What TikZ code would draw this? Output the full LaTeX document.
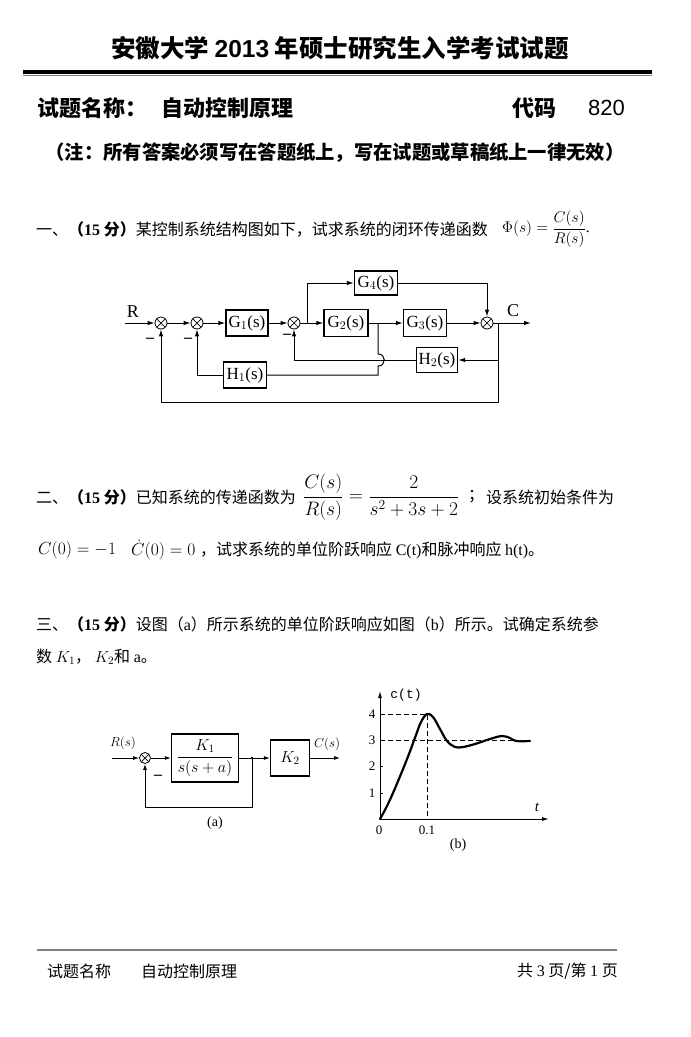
\RequirePackage{fix-cm}
\documentclass[tikz,border=0pt]{standalone}
\usepackage{fontspec}
\usepackage{amsmath}
\setmainfont{Liberation Serif}
\setsansfont{Liberation Sans}
\setmonofont{Liberation Mono}
\newfontfamily\cjk{Noto Sans CJK SC}
\usetikzlibrary{arrows.meta,calc}
\newcommand{\myfs}[1]{\fontsize{#1}{#1}\selectfont}
\begin{document}
\begin{tikzpicture}[x=1pt,y=-1pt,
 blk/.style={draw,line width=1.4pt,minimum width=42pt,minimum height=26pt,inner sep=0pt,font=\myfs{17}},
 sumj/.style={draw,circle,minimum size=12pt,inner sep=0pt,line width=0.8pt,
   path picture={\draw[line width=0.7pt] (path picture bounding box.north west)--(path picture bounding box.south east) (path picture bounding box.north east)--(path picture bounding box.south west);}},
 sig/.style={line width=1pt,-{Latex[length=7pt,width=4.5pt]}},
 siga/.style={line width=0.9pt,-{Latex[length=6pt,width=4pt]}},
 ln/.style={line width=1pt},
 txt/.style={anchor=west,inner sep=0pt,font=\cjk\myfs{16}},
 lab/.style={inner sep=0pt},
 dsh/.style={line width=0.9pt,dash pattern=on 5pt off 3pt}
]
\useasboundingbox (0,0) rectangle (691,1037);
\fill[white] (0,0) rectangle (691,1037);

% ---------- header ----------
\node[lab,font=\cjk\bfseries\myfs{24.5}] (title) at (340,48) {安徽大学 {\sffamily 2013} 年硕士研究生入学考试试题};
\draw[line width=4pt] (23,71.5) -- (652,71.5);
\draw[line width=1.5pt,gray] (23,75.5) -- (652,75.5);
\node[txt,font=\cjk\bfseries\myfs{22}] (h1) at (37,108) {试题名称：};
\node[txt,font=\cjk\bfseries\myfs{22}] (h2) at (161,108) {自动控制原理};
\node[txt,font=\cjk\bfseries\myfs{22}] (h3) at (512,108) {代码};
\node[txt,font=\sffamily\myfs{22}] (h4) at (588,108) {820};
\node[lab,font=\cjk\bfseries\myfs{19.3}] (note) at (335,153) {（注：所有答案必须写在答题纸上，写在试题或草稿纸上一律无效）};

% ---------- problem 1 ----------
\node[txt] (p1) at (36,229) {一、{\bfseries（{\rmfamily 15} 分）}某控制系统结构图如下，试求系统的闭环传递函数};
\node[anchor=west,inner sep=0pt,font=\myfs{15.5}] (p1f) at (502,229) {$\Phi(s)=\dfrac{C(s)}{R(s)}$.};

% diagram 1
\coordinate (in1) at (125,323);
\node[sumj] (s1) at (161,323) {};
\node[sumj] (s2) at (197,323) {};
\node[blk] (G1) at (247,323) {G$_1$(s)};
\node[sumj] (s3) at (294,323) {};
\coordinate (b1) at (307,323);
\node[blk,minimum width=43pt,minimum height=24pt] (G4) at (376,283) {G$_4$(s)};
\node[blk,minimum width=44pt,minimum height=27pt] (G2) at (346,323) {G$_2$(s)};
\coordinate (b2) at (378,323);
\node[blk,minimum width=43pt,minimum height=27pt] (G3) at (425,323) {G$_3$(s)};
\node[sumj] (s4) at (487,323) {};
\coordinate (b3) at (498,323);
\coordinate (out1) at (531,323);
\node[blk,minimum width=41pt,minimum height=25pt] (H2) at (437,360) {H$_2$(s)};
\node[blk,minimum width=43pt,minimum height=26pt] (H1) at (245,375) {H$_1$(s)};
\coordinate (j1) at (378,354);
\coordinate (j2) at (378,366);
\coordinate (j3) at (378,375);
\coordinate (c1) at (498,402);

\draw[sig] (in1) -- (s1);
\draw[sig] (s1) -- (s2);
\draw[sig] (s2) -- (G1);
\draw[sig] (G1) -- (s3);
\draw[sig] (s3) -- (G2);
\draw[sig] (b1) |- (G4.west);
\draw[sig] (G4.east) -| (s4.north);
\draw[sig] (G2) -- (G3);
\draw[sig] (G3) -- (s4);
\draw[sig] (s4) -- (out1);
\draw[sig] (b3) |- (H2.east);
\draw[sig] (H2.west) -| (s3.south);
\draw[ln] (b2) -- (j1) to[out=0,in=0,looseness=1.8] (j2) -- (j3) -- (H1.east);
\draw[sig] (H1.west) -| (s2.south);
\draw[sig] (b3) -- (c1) -| (s1.south);

\node[lab,font=\myfs{18}] (Rl) at (133,312) {R};
\node[lab,font=\myfs{18}] (Cl) at (513,311) {C};
\node[lab,font=\bfseries\myfs{16}] (m1) at (150,340) {–};
\node[lab,font=\bfseries\myfs{16}] (m2) at (188,340) {–};
\node[lab,font=\bfseries\myfs{16}] (m3) at (287,336) {–};

% ---------- problem 2 ----------
\node[txt] (p2) at (36,497) {二、{\bfseries（{\rmfamily 15} 分）}已知系统的传递函数为};
\node[anchor=west,inner sep=0pt,font=\myfs{19.5}] (p2f) at (303,497) {$\dfrac{C(s)}{R(s)}=\dfrac{2}{s^2+3s+2}$};
\node[txt] (p2s) at (468,497) {；};
\node[txt] (p2b) at (486,497) {设系统初始条件为};
\node[anchor=west,inner sep=0pt,font=\myfs{17.5}] (p2c) at (38,550) {$C(0)=-1$};
\node[anchor=west,inner sep=0pt,font=\myfs{17.5}] (p2e) at (131,550) {$\dot{C}(0)=0$};
\node[txt] (p2d) at (200,550) {，试求系统的单位阶跃响应 {\rmfamily C(t)}和脉冲响应 {\rmfamily h(t)}。};

% ---------- problem 3 ----------
\node[txt] (p3) at (36,624) {三、{\bfseries（{\rmfamily 15} 分）}设图（{\rmfamily a}）所示系统的单位阶跃响应如图（{\rmfamily b}）所示。试确定系统参};
\node[txt] (p3b) at (36,657) {数 {\rmfamily $K_1$}， {\rmfamily $K_2$}和 {\rmfamily a}。};

% diagram (a)
\coordinate (inA) at (112,758);
\node[sumj,minimum size=11pt] (sA) at (145,758) {};
\node[blk,minimum width=67pt,minimum height=48pt,line width=1.2pt,font=\myfs{16}] (KA) at (205,758) {$\dfrac{K_1}{s(s+a)}$};
\coordinate (bA) at (252,758);
\node[blk,minimum width=39pt,minimum height=36pt,line width=1.2pt,font=\myfs{16}] (K2) at (290,758) {$K_2$};
\coordinate (outA) at (340,758);
\coordinate (fbA) at (252,807);
\draw[siga] (inA) -- (sA);
\draw[siga] (sA) -- (KA);
\draw[ln] (KA) -- (bA);
\draw[siga] (bA) -- (K2);
\draw[siga] (K2) -- (outA);
\draw[siga] (bA) -- (fbA) -| (sA.south);
\fill (bA) circle (1.4);
\node[lab,font=\myfs{13}] (RA) at (123,743) {$R(s)$};
\node[lab,font=\myfs{13}] (CA) at (327,744) {$C(s)$};
\node[lab,font=\bfseries\myfs{16}] (mA) at (158,777) {–};
\node[lab,font=\myfs{14}] (la) at (215,823) {(a)};

% graph (b)
\coordinate (O) at (380,819);
\coordinate (ytop) at (380,691);
\coordinate (xend) at (549,819);
\draw[line width=1pt,-{Latex[length=7pt,width=4pt]}] (O) -- (ytop);
\draw[line width=1pt,-{Latex[length=7pt,width=4pt]}] (O) -- (xend);
\foreach \yy in {714,740,766,793} \draw[line width=0.8pt] (380,\yy) -- (383,\yy);
\draw[dsh] (380,714) -- (427,714) -- (427,819);
\draw[dsh] (380,740) -- (530,740);
\draw[line width=2.2pt,line cap=round,line join=round] plot[smooth,tension=0.6] coordinates {(380,819) (386,808) (393,793) (401,774) (409,754) (416,735) (421,722) (427,714) (433,717) (440,729) (447,741) (455,747) (463,747) (475,744) (490,739) (502,736) (510,738) (516,741) (530,741)};
\node[lab,font=\myfs{13}] (y4) at (372,714) {4};
\node[lab,font=\myfs{13}] (y3) at (372,740) {3};
\node[lab,font=\myfs{13}] (y2) at (372,766) {2};
\node[lab,font=\myfs{13}] (y1) at (372,793) {1};
\node[lab,font=\myfs{13}] (x0) at (379,830) {0};
\node[lab,font=\myfs{13}] (x1) at (427,830) {0.1};
\node[lab,font=\itshape\myfs{15}] (tl) at (537,807) {t};
\node[lab,font=\ttfamily\myfs{13}] (ct) at (406,695) {c(t)};
\node[lab,font=\myfs{14}] (lb) at (458,845) {(b)};

% ---------- footer ----------
\draw[line width=1.2pt,gray] (37,950) -- (617,950);
\node[txt] (f1) at (47,971) {试题名称};
\node[txt] (f2) at (141,971) {自动控制原理};
\node[anchor=east,inner sep=0pt,font=\cjk\myfs{16}] (f3) at (618,971) {共 {\rmfamily 3} 页/第 {\rmfamily 1} 页};
\end{tikzpicture}
\end{document}
